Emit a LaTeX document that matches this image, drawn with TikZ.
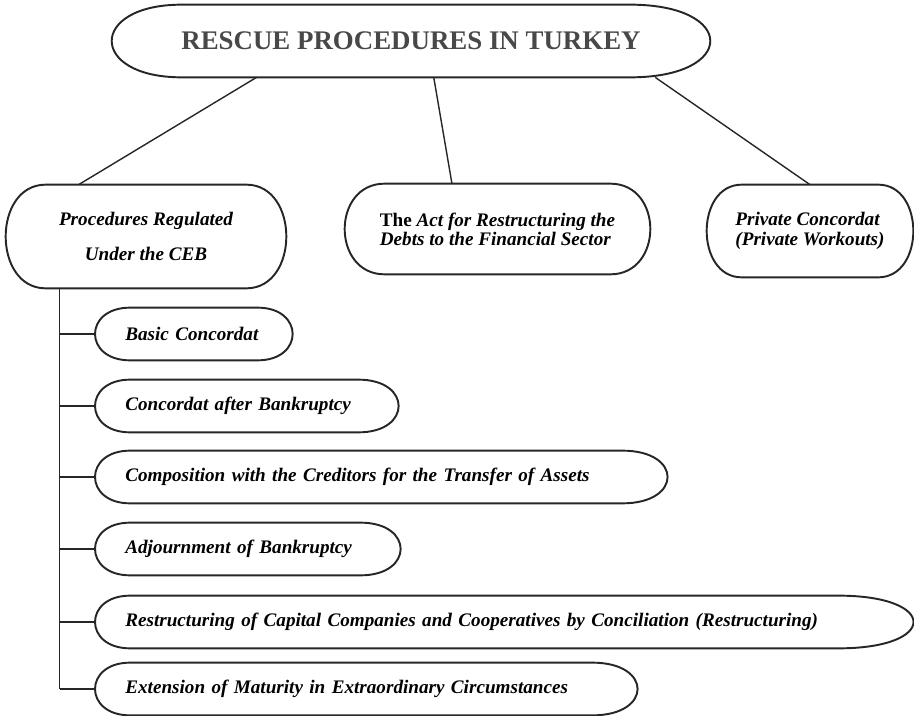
\documentclass[tikz,border=0pt]{standalone}
\usepackage{fontspec}
\setmainfont{Liberation Serif}
\usepackage{tikz}
\usetikzlibrary{calc}
\definecolor{inkgray}{RGB}{72,72,72}
\tikzset{
  capln/.style={line width=1.1pt, black!85, line join=round},
  linkln/.style={line width=0.8pt, black!85},
  txtnode/.style={inner sep=0pt, font=\fontsize{10.9}{11.5}\selectfont\bfseries\itshape},
  item/.style={txtnode, anchor=west, text width=#1, align=left,
    inner xsep=6mm, minimum height=10.4mm},
}
% outline with bulged ends round a node: #1 node, #2 left depth, #3 right depth
\newcommand{\capsule}[3]{%
  \draw[capln] ($(#1.north west)+(#2,0)$) -- ($(#1.north east)+(-#3,0)$)
    .. controls ($(#1.north east)+(#3/3,0)$) and ($(#1.south east)+(#3/3,0)$)
    .. ($(#1.south east)+(-#3,0)$) -- ($(#1.south west)+(#2,0)$)
    .. controls ($(#1.south west)+(-#2/3,0)$) and ($(#1.north west)+(-#2/3,0)$)
    .. cycle;
}

\begin{document}
\begin{tikzpicture}[x=0.02cm, y=-0.02cm]
  \useasboundingbox (0,0) rectangle (914,716);
  % title
  \node[txtnode, font=\fontsize{15.3}{17}\selectfont\bfseries, text=inkgray,
    minimum width=11.96cm, minimum height=1.44cm] (top) at (411,41)
    {RESCUE PROCEDURES IN TURKEY};
  \capsule{top}{70}{80}
  % the three kinds of procedure
  \node[txtnode, align=center, font=\fontsize{10.9}{19.8}\selectfont\bfseries\itshape,
    minimum width=5.6cm, minimum height=2.06cm] (ceb) at (146,236.5)
    {Procedures Regulated\\Under the CEB};
  \node[txtnode, align=left, font=\fontsize{10.9}{10.8}\selectfont\bfseries\itshape,
    minimum width=6.1cm, minimum height=1.8cm] (act) at (497.5,229)
    {{\upshape The} Act for Restructuring the\\Debts to the Financial Sector};
  \node[txtnode, align=left, font=\fontsize{10.9}{11.5}\selectfont\bfseries\itshape,
    minimum width=4.12cm, minimum height=1.84cm] (priv) at (810,231)
    {Private Concordat\\(Private Workouts)};
  \capsule{ceb}{40}{40}
  \capsule{act}{40}{40}
  \capsule{priv}{35}{35}
  \draw[linkln] ($(top.south west)!0.242!(top.south east)$) -- ($(ceb.north west)!0.26!(ceb.north east)$);
  \draw[linkln] ($(top.south west)!0.538!(top.south east)$) -- ($(act.north west)!0.351!(act.north east)$);
  \draw[linkln] ($(top.south west)!0.908!(top.south east)$) -- (priv.north);
  % procedures under the CEB
  \coordinate (trunk) at ($(ceb.south west)+(54,0)$);
  \foreach \nm/\yy/\tw/\el/\er/\txt in {
      basic/334/27.4/35/35/{Basic Concordat},
      after/406/48.6/35/40/{Concordat after Bankruptcy},
      comp/477/102.4/35/45/{Composition with the Creditors for the Transfer of Assets},
      adj/549/49/35/40/{Adjournment of Bankruptcy},
      restr/622/151.6/35/75/{Restructuring of Capital Companies and Cooperatives by Conciliation (Restructuring)},
      ext/689/96.4/35/45/{Extension of Maturity in Extraordinary Circumstances}} {
    \node[item=\tw mm] (\nm) at (95,\yy) {\txt};
    \capsule{\nm}{\el}{\er}
    \draw[linkln] (trunk |- \nm.west) -- (\nm.west);
  }
  \draw[linkln] (trunk) -- (trunk |- ext.west);
\end{tikzpicture}
\end{document}
